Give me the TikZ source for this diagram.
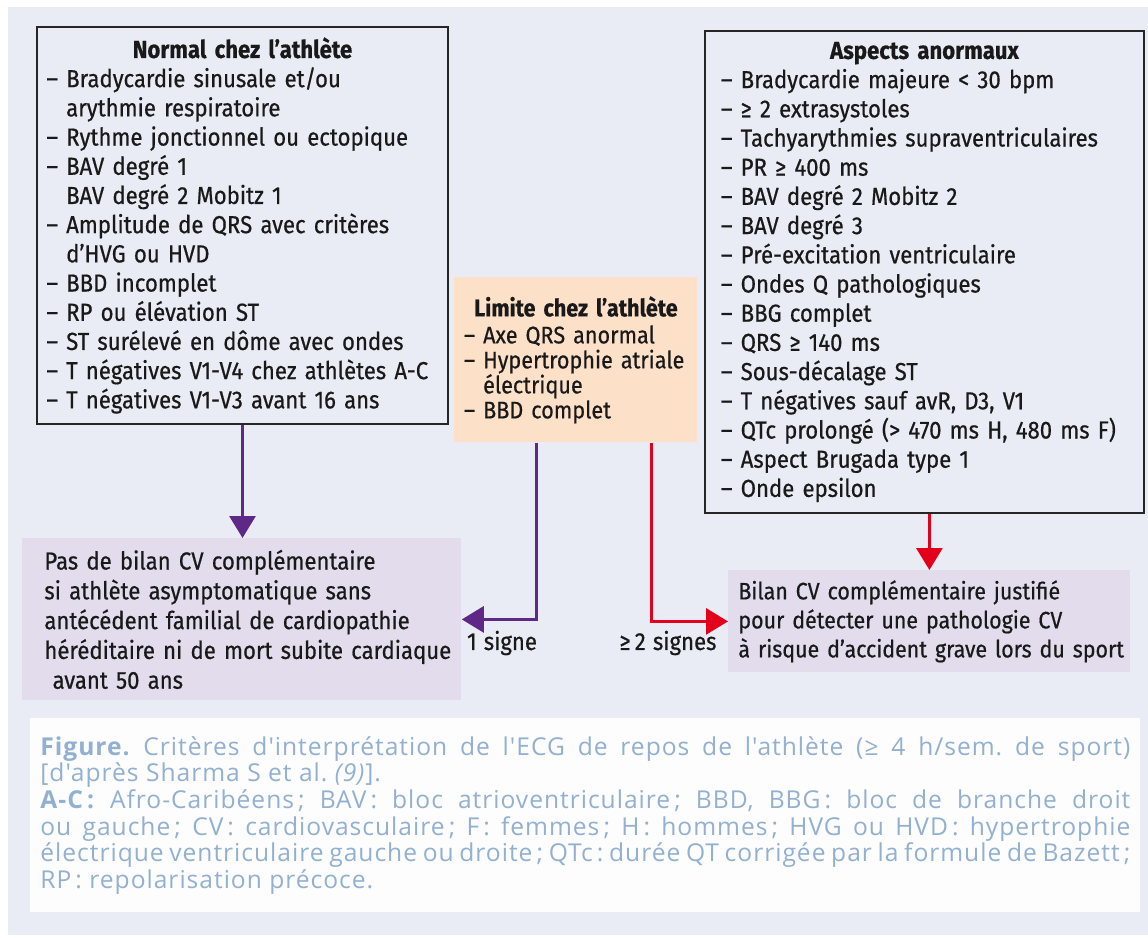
\documentclass[tikz,border=0pt]{standalone}
\usepackage{fontspec}
\setmainfont{Fira Sans}[FakeStretch=0.9, WordSpace=0.72, FakeBold=0.6]
\newfontfamily\legendfont{Open Sans}[LetterSpace=4]
\usetikzlibrary{arrows.meta}
\definecolor{bgblue}{RGB}{233,236,244}
\definecolor{peach}{RGB}{253,224,200}
\definecolor{lilac}{RGB}{226,220,236}
\definecolor{violetline}{RGB}{94,40,134}
\definecolor{redline}{RGB}{226,0,26}
\definecolor{captionblue}{RGB}{146,176,208}
\newcommand{\itm}{-- }
\newcommand{\cont}{\phantom{-- }}
\frenchspacing

\begin{document}
\begin{tikzpicture}[x=0.5pt, y=-0.5pt,
  every node/.style={font=\fontsize{12.3}{14.6}\selectfont, inner sep=0pt, text=black!90},
  listbox/.style={draw=black!85, line width=1pt, anchor=north west, align=left},
  resultbox/.style={fill=lilac, anchor=north west, align=left, inner xsep=0pt},
  violetarrow/.style={draw=violetline, line width=1.5pt, -{Triangle[length=11pt, width=13pt]}},
  redarrow/.style={draw=redline, line width=1.5pt, -{Triangle[length=11pt, width=13pt]}}]
  \useasboundingbox (0,0) rectangle (1148,938);
  \fill[bgblue] (8,7) rectangle (1148,935);
  \node[listbox, text width=196pt, inner xsep=4.75pt, minimum height=198.5pt] (normal) at (36,26) {%
    \hspace*{1.5pt}\makebox[193pt]{\bfseries Normal chez l’athlète}\\
    \itm Bradycardie sinusale et/ou\\
    \cont arythmie respiratoire\\
    \itm Rythme jonctionnel ou ectopique\\
    \itm BAV degré 1\\
    \cont BAV degré 2 Mobitz 1\\
    \itm Amplitude de QRS avec critères\\
    \cont d’HVG ou HVD\\
    \itm BBD incomplet\\
    \itm RP ou élévation ST\\
    \itm ST surélevé en dôme avec ondes\\
    \itm T négatives V1-V4 chez athlètes A-C\\
    \itm T négatives V1-V3 avant 16 ans};
  \node[fill=peach, anchor=north west, align=left, text width=117pt, inner xsep=2.25pt, minimum height=82.5pt,
    font=\fontsize{12}{12.5}\selectfont] (limite) at (454,277) {%
    \makebox[\linewidth]{\bfseries Limite chez l’athlète}\\[1pt]
    \hspace*{2.5pt}\itm Axe QRS anormal\\
    \hspace*{2.5pt}\itm Hypertrophie atriale\\
    \hspace*{2.5pt}\cont électrique\\
    \hspace*{2.5pt}\itm BBD complet};
  \node[listbox, text width=207.5pt, inner xsep=6pt, minimum height=241pt] (anormal) at (704,30) {%
    \hspace*{2pt}\makebox[203.5pt]{\bfseries Aspects anormaux}\\
    \hspace*{2pt}\itm Bradycardie majeure < 30 bpm\\
    \hspace*{2pt}\itm ≥ 2 extrasystoles\\
    \hspace*{2pt}\itm Tachyarythmies supraventriculaires\\
    \hspace*{2pt}\itm PR ≥ 400 ms\\
    \hspace*{2pt}\itm BAV degré 2 Mobitz 2\\
    \hspace*{2pt}\itm BAV degré 3\\
    \hspace*{2pt}\itm Pré-excitation ventriculaire\\
    \hspace*{2pt}\itm Ondes Q pathologiques\\
    \hspace*{2pt}\itm BBG complet\\
    \hspace*{2pt}\itm QRS ≥ 140 ms\\
    \hspace*{2pt}\itm Sous-décalage ST\\
    \hspace*{2pt}\itm T négatives sauf avR, D3, V1\\
    \hspace*{2pt}\itm QTc prolongé (> 470 ms H, 480 ms F)\\
    \hspace*{2pt}\itm Aspect Brugada type 1\\
    \hspace*{2pt}\itm Onde epsilon};
  \node[resultbox, text width=219.5pt, minimum height=81pt,
    font=\fontsize{12.3}{14.9}\selectfont] (nobilan) at (22,538) {%
    \hspace*{11pt}\mbox{Pas de bilan CV complémentaire}\\
    \hspace*{11pt}\mbox{si athlète asymptomatique sans}\\
    \hspace*{11pt}\mbox{antécédent familial de cardiopathie}\\
    \hspace*{11pt}\mbox{héréditaire ni de mort subite cardiaque}\\
    \hspace*{11pt}\mbox{\ avant 50 ans}};
  \node[resultbox, text width=201pt, minimum height=51pt,
    font=\fontsize{11.9}{14.5}\selectfont] (bilan) at (728,570) {%
    \hspace*{5pt}\mbox{Bilan CV complémentaire justifié}\\
    \hspace*{5pt}\mbox{pour détecter une pathologie CV}\\
    \hspace*{5pt}\mbox{à risque d’accident grave lors du sport}};
  \node (unsigne) at (502,643) {1\hspace{1.5pt} signe};
  \node (deuxsignes) at (668,643) {≥ 2\hspace{1.5pt} signes};
  \draw[violetarrow] (normal.south) -- (normal.south |- nobilan.north);
  \draw[violetarrow] ([xshift=-19.5pt]limite.south) |- (nobilan.east);
  \draw[redarrow] ([xshift=37.75pt]limite.south) |- (bilan.west);
  \draw[redarrow] (bilan.north |- anormal.south) -- (bilan.north);
  \node[fill=white!60!bgblue!20, anchor=north west, align=justify, text width=545pt, inner xsep=5pt, inner ysep=9pt,
    text=captionblue, font=\legendfont\fontsize{12.3}{13.3}\selectfont] (legende) at (30,718) {%
    \textbf{Figure.} Critères d'interprétation de l'ECG de repos de l'athlète (≥ 4 h/sem. de sport)\linebreak
    {[}d'après Sharma S et al. \textit{(9)}{]}.\\
    \textbf{A-C\,:} Afro-Caribéens\,; BAV\,: bloc atrioventriculaire\,; BBD, BBG\,: bloc de branche droit\linebreak
    ou gauche\,; CV\,: cardiovasculaire\,; F\,: femmes\,; H\,: hommes\,; HVG ou HVD\,: hypertrophie\linebreak
    électrique ventriculaire gauche ou droite\,; QTc\,: durée QT corrigée par la formule de Bazett\,;\linebreak
    RP\,: repolarisation précoce.};
\end{tikzpicture}
\end{document}
